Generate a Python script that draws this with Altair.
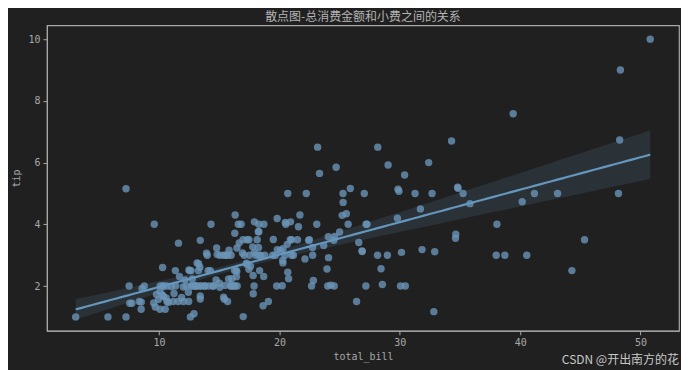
import altair as alt
import numpy as np
import pandas as pd

total_bill = [16.99, 10.34, 21.01, 23.68, 24.59, 25.29, 8.77, 26.88, 15.04, 14.78,
              10.27, 35.26, 15.42, 18.43, 14.83, 21.58, 10.33, 16.29, 16.97, 20.65,
              17.92, 20.29, 15.77, 39.42, 19.82, 17.81, 13.37, 12.69, 21.70, 19.65,
              9.55, 18.35, 15.06, 20.69, 17.78, 24.06, 16.31, 16.93, 18.69, 31.27,
              16.04, 17.46, 13.94, 9.68, 30.40, 18.29, 22.23, 32.40, 28.55, 18.04,
              12.54, 10.29, 34.81, 9.94, 25.56, 19.49, 38.01, 26.41, 11.24, 48.27,
              20.29, 13.81, 11.02, 18.29, 17.59, 20.08, 16.45, 3.07, 20.23, 15.01,
              12.02, 17.07, 26.86, 25.28, 14.73, 10.51, 17.92, 27.20, 22.76, 17.29,
              19.44, 16.66, 10.07, 32.68, 15.98, 34.83, 13.03, 18.28, 24.71, 21.16,
              28.97, 22.49, 5.75, 16.32, 22.75, 40.17, 27.28, 12.03, 21.01, 12.46,
              11.35, 15.38, 44.30, 22.42, 20.92, 15.36, 20.49, 25.21, 18.24, 14.31,
              14.00, 7.25, 38.07, 23.95, 25.71, 17.31, 29.93, 10.65, 12.43, 24.08,
              11.69, 13.42, 14.26, 15.95, 12.48, 29.80, 8.52, 14.52, 11.38, 22.82,
              19.08, 20.27, 11.17, 12.26, 18.26, 8.51, 10.33, 14.15, 16.00, 13.16,
              17.47, 34.30, 41.19, 27.05, 16.43, 8.35, 18.64, 11.87, 9.78, 7.51,
              14.07, 13.13, 17.26, 24.55, 19.77, 29.85, 48.17, 25.00, 13.39, 16.49,
              21.50, 12.66, 16.21, 13.81, 17.51, 24.52, 20.76, 31.71, 10.59, 10.63,
              50.81, 15.81, 7.25, 31.85, 16.82, 32.90, 17.89, 14.48, 9.60, 34.63,
              34.65, 23.33, 45.35, 23.17, 40.55, 20.69, 20.90, 30.46, 18.15, 23.10,
              15.69, 19.81, 28.44, 15.48, 16.58, 7.56, 10.34, 43.11, 13.00, 13.51,
              18.71, 12.74, 13.00, 16.40, 20.53, 16.47, 26.59, 38.73, 24.27, 12.76,
              30.06, 25.89, 48.33, 13.27, 28.17, 12.90, 28.15, 11.59, 7.74, 30.14,
              12.16, 13.42, 8.58, 15.98, 13.42, 16.27, 10.09, 20.45, 13.28, 22.12,
              24.01, 15.69, 11.61, 10.77, 15.53, 10.07, 12.60, 32.83, 35.83, 29.03,
              27.18, 22.67, 17.82, 18.78]
tip = [1.01, 1.66, 3.50, 3.31, 3.61, 4.71, 2.00, 3.12, 1.96, 3.23,
       1.71, 5.00, 1.57, 3.00, 3.02, 3.92, 1.67, 3.71, 3.50, 3.35,
       4.08, 2.75, 2.23, 7.58, 3.18, 2.34, 2.00, 2.00, 4.30, 3.00,
       1.45, 2.50, 3.00, 2.45, 3.27, 3.60, 2.00, 3.07, 2.31, 5.00,
       2.24, 2.54, 3.06, 1.32, 5.60, 3.00, 5.00, 6.00, 2.05, 3.00,
       2.50, 2.60, 5.20, 1.56, 4.34, 3.51, 3.00, 1.50, 1.76, 6.73,
       3.21, 2.00, 1.98, 3.76, 2.64, 3.15, 2.47, 1.00, 2.01, 2.09,
       1.97, 3.00, 3.14, 5.00, 2.20, 1.25, 3.08, 4.00, 3.00, 2.71,
       3.00, 3.40, 1.83, 5.00, 2.03, 5.17, 2.00, 4.00, 5.85, 3.00,
       3.00, 3.50, 1.00, 4.30, 3.25, 4.73, 4.00, 1.50, 3.00, 1.50,
       2.50, 3.00, 2.50, 3.48, 4.08, 1.64, 4.06, 4.29, 3.76, 4.00,
       3.00, 1.00, 4.00, 2.55, 4.00, 3.50, 5.07, 1.50, 1.80, 2.92,
       2.31, 1.68, 2.50, 2.00, 2.52, 4.20, 1.48, 2.00, 2.00, 2.18,
       1.50, 2.83, 1.50, 2.00, 3.25, 1.25, 2.00, 2.00, 2.00, 2.75,
       3.50, 6.70, 5.00, 5.00, 2.30, 1.50, 1.36, 1.63, 1.73, 2.00,
       2.50, 2.00, 2.74, 2.00, 2.00, 5.14, 5.00, 3.75, 2.61, 2.00,
       3.50, 2.50, 2.00, 2.00, 3.00, 3.48, 2.24, 4.50, 1.61, 2.00,
       10.00, 3.16, 5.15, 3.18, 4.00, 3.11, 2.00, 2.00, 4.00, 3.55,
       3.68, 5.65, 3.50, 6.50, 3.00, 5.00, 3.50, 2.00, 3.50, 4.00,
       1.50, 4.19, 2.56, 2.02, 4.00, 1.44, 2.00, 5.00, 2.00, 2.00,
       4.00, 2.01, 2.00, 2.50, 4.00, 3.23, 3.41, 3.00, 2.03, 2.23,
       2.00, 5.16, 9.00, 2.50, 6.50, 1.10, 3.00, 1.50, 1.44, 3.09,
       2.20, 3.48, 1.92, 3.00, 1.58, 2.50, 2.00, 3.00, 2.72, 2.88,
       2.00, 3.00, 3.39, 1.47, 3.00, 1.25, 1.00, 1.17, 4.67, 5.92,
       2.00, 2.00, 1.75, 3.00]

x_ticks = [10, 20, 30, 40, 50]
y_ticks = [2, 4, 6, 8, 10]
title_text = "散点图-总消费金额和小费之间的关系"
watermark = "CSDN @开出南方的花"

df = pd.DataFrame({"total_bill": total_bill, "tip": tip})

# Regression fit and 95% band (heteroscedasticity-robust, approximating bootstrap)
x = np.array(total_bill)
y = np.array(tip)
X = np.column_stack([np.ones_like(x), x])
XtX_inv = np.linalg.inv(X.T @ X)
beta = XtX_inv @ X.T @ y
resid = y - X @ beta
meat = X.T @ (X * (resid ** 2)[:, None])
V = XtX_inv @ meat @ XtX_inv
grid = np.linspace(x.min(), x.max(), 100)
G = np.column_stack([np.ones_like(grid), grid])
yhat = G @ beta
se = np.sqrt(np.einsum("ij,jk,ik->i", G, V, G))
band = pd.DataFrame({"total_bill": grid, "yhat": yhat,
                     "lo": yhat - 1.96 * se, "hi": yhat + 1.96 * se})

AXIS_COL = "#a8a8a8"
TEXT_COL = "#a8a8a8"
PT_COL = "#6a94b6"
LINE_COL = "#6596bd"

xscale = alt.Scale(domain=[0.68, 53.2], nice=False, zero=False)
yscale = alt.Scale(domain=[0.55, 10.45], nice=False, zero=False)

xaxis = alt.Axis(values=x_ticks, title="total_bill", grid=False)
yaxis = alt.Axis(values=y_ticks, title="tip", grid=False)

points = alt.Chart(df).mark_circle(size=55, color=PT_COL, opacity=0.8).encode(
    x=alt.X("total_bill:Q", scale=xscale, axis=xaxis),
    y=alt.Y("tip:Q", scale=yscale, axis=yaxis),
)

area = alt.Chart(band).mark_area(color=LINE_COL, opacity=0.15).encode(
    x=alt.X("total_bill:Q", scale=xscale),
    y=alt.Y("lo:Q", scale=yscale),
    y2="hi:Q",
)

line = alt.Chart(band).mark_line(color=LINE_COL, strokeWidth=2.2).encode(
    x=alt.X("total_bill:Q", scale=xscale),
    y=alt.Y("yhat:Q", scale=yscale),
)

wm = alt.Chart(pd.DataFrame({"t": [watermark]})).mark_text(
    align="right", baseline="middle", font="Noto Sans CJK SC", fontSize=12,
    color="#c8c8c8"
).encode(x=alt.value(633), y=alt.value(335), text="t:N")

chart = alt.layer(points, area, line, wm).properties(
    width=633,
    height=306,
    title=alt.TitleParams(title_text, font="Noto Sans CJK SC", fontSize=12,
                          fontWeight="normal", color="#b4b4b4", offset=1),
    autosize=alt.AutoSizeParams(type="none"),
    padding={"left": 39, "top": 17, "right": 2, "bottom": 40},
    background="#202020",
).configure_view(
    stroke=AXIS_COL, strokeWidth=1.2
).configure_axis(
    domainColor=AXIS_COL, tickColor=AXIS_COL, tickSize=4,
    labelColor=TEXT_COL, titleColor=TEXT_COL,
    labelFont="DejaVu Sans Mono", titleFont="DejaVu Sans Mono",
    labelFontSize=10, titleFontSize=10, titleFontWeight="normal",
    labelPadding=3,
).configure_axisX(titlePadding=4).configure_axisY(titlePadding=6)

chart.save("out.html", embed_options={"renderer": "svg", "actions": False})
